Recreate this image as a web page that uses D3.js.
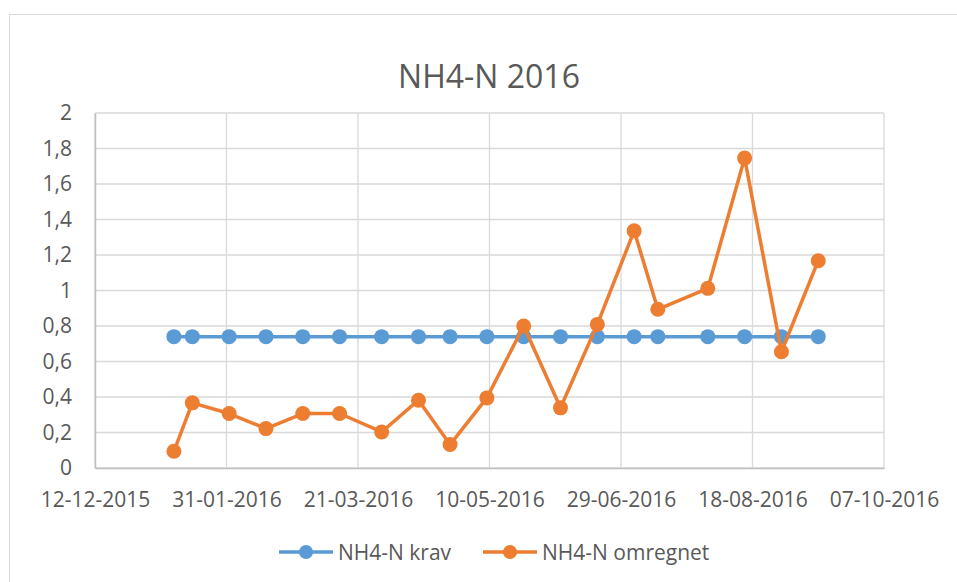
<!DOCTYPE html>
<html>
<head>
<meta charset="utf-8">
<script src="https://cdn.jsdelivr.net/npm/d3@7"></script>
<style>
  body { margin: 0; background: #fff; }
  svg { display: block; font-family: "Open Sans", sans-serif; }
</style>
</head>
<body>
<div id="chart"></div>
<script>
const width = 957;
const height = 582;

// sample dates (shared by both series)
const dates = ['2016-01-11', '2016-01-18', '2016-02-01', '2016-02-15', '2016-02-29', '2016-03-14',
  '2016-03-30', '2016-04-13', '2016-04-25', '2016-05-09', '2016-05-23', '2016-06-06',
  '2016-06-20', '2016-07-04', '2016-07-13', '2016-08-01', '2016-08-15', '2016-08-29', '2016-09-12'];
const krav = [0.74, 0.74, 0.74, 0.74, 0.74, 0.74, 0.74, 0.74, 0.74, 0.74,
  0.74, 0.74, 0.74, 0.74, 0.74, 0.74, 0.74, 0.74, 0.74];
const omregnet = [0.094, 0.367, 0.307, 0.222, 0.307, 0.307, 0.203, 0.382, 0.132, 0.395,
  0.80, 0.339, 0.809, 1.336, 0.894, 1.012, 1.746, 0.655, 1.168];
const xTickLabels = ['12-12-2015', '31-01-2016', '21-03-2016', '10-05-2016', '29-06-2016', '18-08-2016', '07-10-2016'];
const yTicks = [0, 0.2, 0.4, 0.6, 0.8, 1, 1.2, 1.4, 1.6, 1.8, 2];
const seriesNames = ['NH4-N krav', 'NH4-N omregnet'];
const colors = ['#5b9bd5', '#ed7d31'];

const parseDate = d3.utcParse('%Y-%m-%d');
const parseTick = d3.utcParse('%d-%m-%Y');
const fmtTick = d3.utcFormat('%d-%m-%Y');
const tickDates = xTickLabels.map(parseTick);

const plotLeft = 95, plotRight = 884, plotTop = 113, plotBottom = 468;

const x = d3.scaleUtc()
  .domain([tickDates[0], tickDates[tickDates.length - 1]])
  .range([plotLeft, plotRight]);
const y = d3.scaleLinear().domain([0, 2]).range([plotBottom, plotTop]);

const svg = d3.select('#chart').append('svg')
  .attr('width', width).attr('height', height);

// outer chart frame
svg.append('rect')
  .attr('x', 9.5).attr('y', 14.5)
  .attr('width', width).attr('height', height)
  .attr('fill', '#fff').attr('stroke', '#d9d9d9');

// title
svg.append('text')
  .attr('x', 489).attr('y', 88)
  .attr('text-anchor', 'middle')
  .attr('font-size', '32px')
  .attr('fill', '#595959')
  .text('NH4-N 2016');

// gridlines
svg.append('g').selectAll('line')
  .data(yTicks)
  .join('line')
  .attr('x1', plotLeft).attr('x2', plotRight)
  .attr('y1', d => y(d)).attr('y2', d => y(d))
  .attr('stroke', '#d9d9d9').attr('stroke-width', 1.3);
svg.append('g').selectAll('line')
  .data(tickDates)
  .join('line')
  .attr('x1', d => x(d)).attr('x2', d => x(d))
  .attr('y1', plotTop).attr('y2', plotBottom)
  .attr('stroke', '#d9d9d9').attr('stroke-width', 1.3);

// axes
const xAxis = svg.append('g')
  .attr('transform', `translate(0,${plotBottom})`)
  .call(d3.axisBottom(x).tickValues(tickDates).tickFormat(fmtTick).tickSize(0).tickPadding(24));
xAxis.select('.domain').attr('stroke', '#bfbfbf').attr('stroke-width', 1.5);
xAxis.selectAll('text').attr('font-size', '21px').attr('fill', '#595959')
  .attr('font-family', '"Open Sans", sans-serif');

const yAxis = svg.append('g')
  .attr('transform', `translate(${plotLeft},0)`)
  .call(d3.axisLeft(y).tickValues(yTicks)
    .tickFormat(d => d3.format('~g')(d).replace('.', ','))
    .tickSize(0).tickPadding(23));
yAxis.select('.domain').attr('stroke', '#bfbfbf').attr('stroke-width', 1.5);
yAxis.selectAll('text').attr('font-size', '21px').attr('fill', '#595959')
  .attr('font-family', '"Open Sans", sans-serif');

// series
const series = [krav, omregnet].map((vals, i) => ({
  name: seriesNames[i],
  color: colors[i],
  points: vals.map((v, j) => ({date: parseDate(dates[j]), value: v}))
}));

const line = d3.line().x(d => x(d.date)).y(d => y(d.value));

series.forEach(s => {
  const g = svg.append('g');
  g.append('path')
    .datum(s.points)
    .attr('d', line)
    .attr('fill', 'none')
    .attr('stroke', s.color)
    .attr('stroke-width', 3.5)
    .attr('stroke-linejoin', 'round');
  g.selectAll('circle')
    .data(s.points)
    .join('circle')
    .attr('cx', d => x(d.date))
    .attr('cy', d => y(d.value))
    .attr('r', 7.5)
    .attr('fill', s.color);
});

// legend
const legendX = [279, 483];
const legendY = 552;
const legend = svg.append('g').selectAll('g')
  .data(series)
  .join('g')
  .attr('transform', (d, i) => `translate(${legendX[i]},${legendY})`);
legend.append('line')
  .attr('x1', 0).attr('x2', 54)
  .attr('stroke', d => d.color).attr('stroke-width', 3.5);
legend.append('circle')
  .attr('cx', 27).attr('r', 7).attr('fill', d => d.color);
legend.append('text')
  .attr('x', 59).attr('y', 7.5)
  .attr('font-size', '21px').attr('fill', '#595959')
  .text(d => d.name);
</script>
</body>
</html>
